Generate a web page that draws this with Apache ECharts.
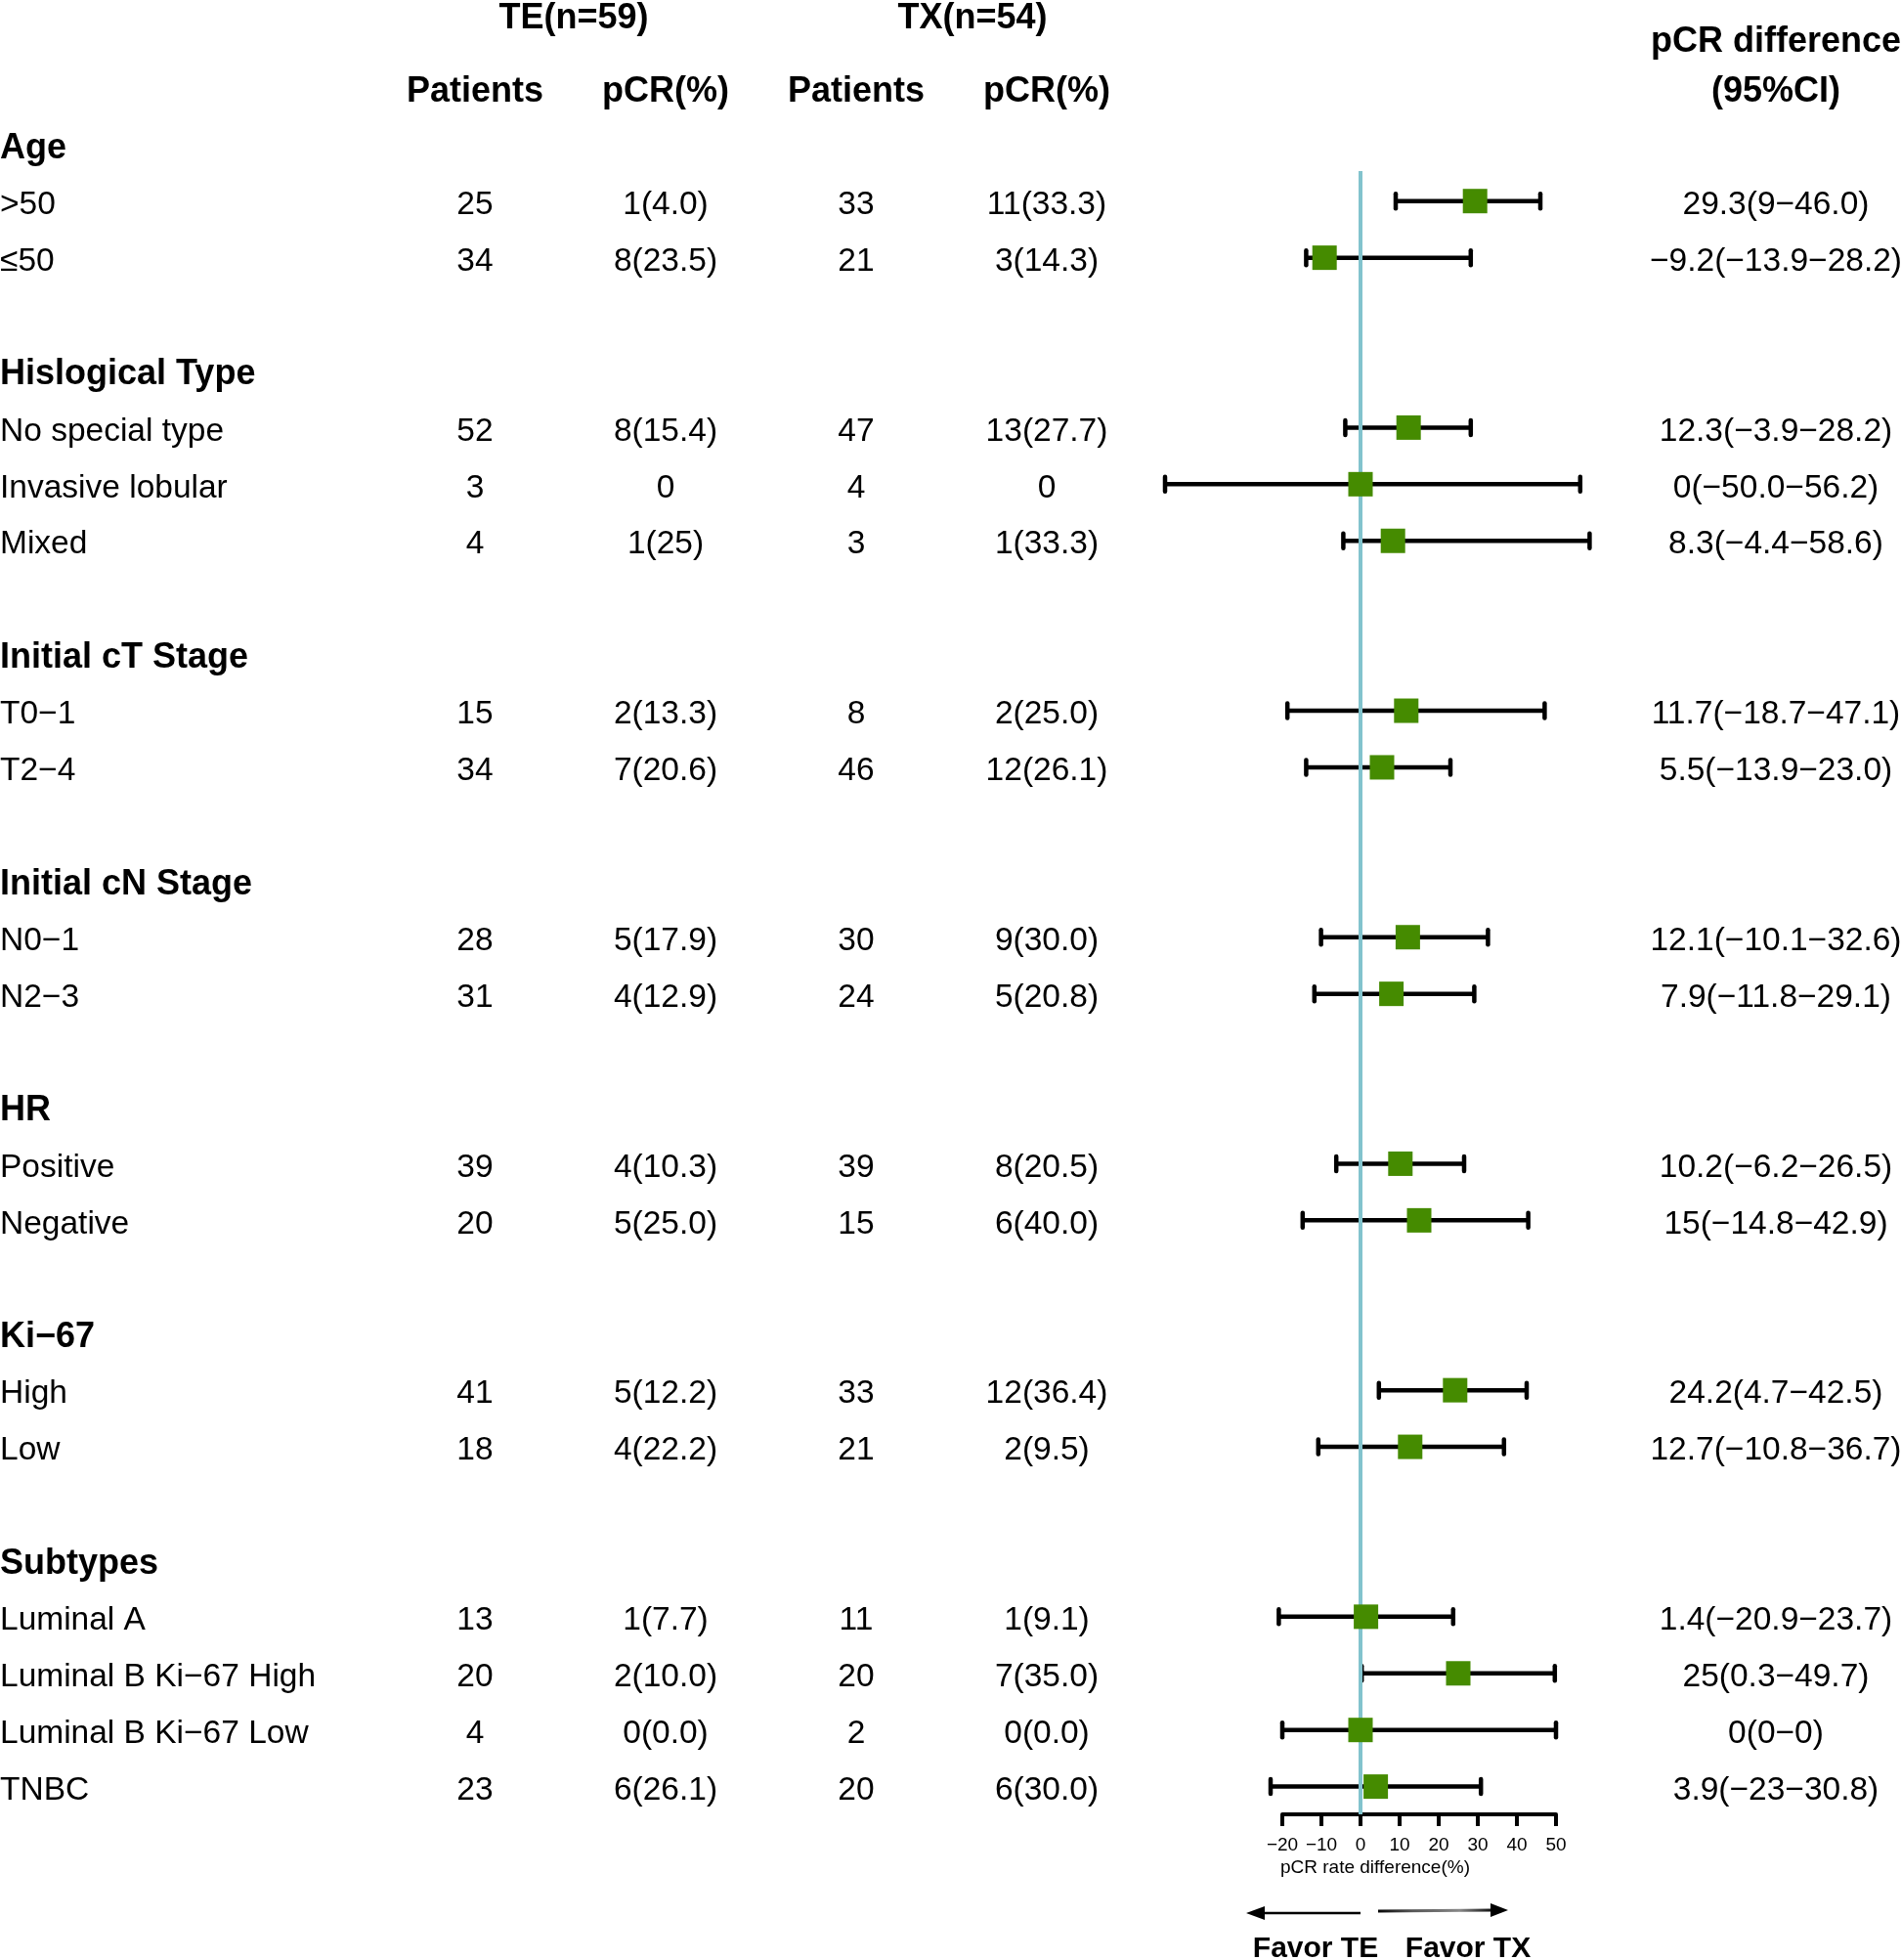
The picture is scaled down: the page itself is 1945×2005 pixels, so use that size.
<!DOCTYPE html>
<html>
<head>
<meta charset="utf-8">
<script src="https://cdn.jsdelivr.net/npm/echarts@6/dist/echarts.min.js"></script>
<style>
html,body{margin:0;padding:0;background:#fff;}
#chart{width:1945px;height:2005px;}
</style>
</head>
<body>
<div id="chart"></div>
<script>
// ---------- DATA ----------
const groups = ["Age", "Hislogical Type", "Initial cT Stage", "Initial cN Stage", "HR", "Ki\u221267", "Subtypes"];
const categories = [">50", "\u226450", "No special type", "Invasive lobular", "Mixed", "T0\u22121", "T2\u22124",
  "N0\u22121", "N2\u22123", "Positive", "Negative", "High", "Low", "Luminal A",
  "Luminal B Ki\u221267 High", "Luminal B Ki\u221267 Low", "TNBC"];
const categoryGroup = [0, 0, 1, 1, 1, 2, 2, 3, 3, 4, 4, 5, 5, 6, 6, 6, 6];
const tePatients = [25, 34, 52, 3, 4, 15, 34, 28, 31, 39, 20, 41, 18, 13, 20, 4, 23];
const tePCR = ["1(4.0)", "8(23.5)", "8(15.4)", "0", "1(25)", "2(13.3)", "7(20.6)", "5(17.9)", "4(12.9)",
  "4(10.3)", "5(25.0)", "5(12.2)", "4(22.2)", "1(7.7)", "2(10.0)", "0(0.0)", "6(26.1)"];
const txPatients = [33, 21, 47, 4, 3, 8, 46, 30, 24, 39, 15, 33, 21, 11, 20, 2, 20];
const txPCR = ["11(33.3)", "3(14.3)", "13(27.7)", "0", "1(33.3)", "2(25.0)", "12(26.1)", "9(30.0)", "5(20.8)",
  "8(20.5)", "6(40.0)", "12(36.4)", "2(9.5)", "1(9.1)", "7(35.0)", "0(0.0)", "6(30.0)"];
const diffLabel = ["29.3(9\u221246.0)", "\u22129.2(\u221213.9\u221228.2)", "12.3(\u22123.9\u221228.2)",
  "0(\u221250.0\u221256.2)", "8.3(\u22124.4\u221258.6)", "11.7(\u221218.7\u221247.1)", "5.5(\u221213.9\u221223.0)",
  "12.1(\u221210.1\u221232.6)", "7.9(\u221211.8\u221229.1)", "10.2(\u22126.2\u221226.5)", "15(\u221214.8\u221242.9)",
  "24.2(4.7\u221242.5)", "12.7(\u221210.8\u221236.7)", "1.4(\u221220.9\u221223.7)", "25(0.3\u221249.7)",
  "0(0\u22120)", "3.9(\u221223\u221230.8)"];
const diffEst = [29.3, -9.2, 12.3, 0, 8.3, 11.7, 5.5, 12.1, 7.9, 10.2, 15, 24.2, 12.7, 1.4, 25, 0, 3.9];
const ciLow = [9, -13.9, -3.9, -50, -4.4, -18.7, -13.9, -10.1, -11.8, -6.2, -14.8, 4.7, -10.8, -20.9, 0.3, -20, -23];
const ciHigh = [46, 28.2, 28.2, 56.2, 58.6, 47.1, 23.0, 32.6, 29.1, 26.5, 42.9, 42.5, 36.7, 23.7, 49.7, 50, 30.8];
const xTicks = [-20, -10, 0, 10, 20, 30, 40, 50];
const headerTop = ["TE(n=59)", "TX(n=54)"];
const headerCols = ["Patients", "pCR(%)", "Patients", "pCR(%)"];
const headerDiff = ["pCR difference", "(95%CI)"];
const axisTitle = "pCR rate difference(%)";
const favorLabels = ["Favor TE", "Favor TX"];

// ---------- LAYOUT ----------
const FONT = "'Liberation Sans', Arial, Helvetica, sans-serif";
const Y_MIN = 0.47, Y_MAX = 29.49;
const GRID_TOP = 175, GRID_H = 1681;
const TEXT_DY = 4;
const COL_X = {label: 0, teP: 486, teR: 681, txP: 876, txR: 1071, diff: 1817};

// row index for each category / group
const catRow = [], grpRow = [];
let r = 0;
groups.forEach((g, gi) => {
  grpRow.push(r); r++;
  categories.forEach((c, ci) => { if (categoryGroup[ci] === gi) { catRow[ci] = r; r++; } });
  r++;
});

// table cells
const cells = [];
groups.forEach((g, gi) => cells.push({x: COL_X.label, row: grpRow[gi], text: g, bold: true, align: 'left'}));
categories.forEach((c, i) => {
  const row = catRow[i];
  cells.push({x: COL_X.label, row, text: c, align: 'left'});
  cells.push({x: COL_X.teP, row, text: String(tePatients[i]), align: 'center'});
  cells.push({x: COL_X.teR, row, text: tePCR[i], align: 'center'});
  cells.push({x: COL_X.txP, row, text: String(txPatients[i]), align: 'center'});
  cells.push({x: COL_X.txR, row, text: txPCR[i], align: 'center'});
  cells.push({x: COL_X.diff, row, text: diffLabel[i], align: 'center'});
});
cells.push({x: 587, row: -2.29, text: headerTop[0], bold: true, align: 'center'});
cells.push({x: 995, row: -2.29, text: headerTop[1], bold: true, align: 'center'});
[COL_X.teP, COL_X.teR, COL_X.txP, COL_X.txR].forEach((x, i) =>
  cells.push({x, row: -1, text: headerCols[i], bold: true, align: 'center'}));
cells.push({x: COL_X.diff, row: -1.87, text: headerDiff[0], bold: true, align: 'center'});
cells.push({x: COL_X.diff, row: -1, text: headerDiff[1], bold: true, align: 'center'});

const forestData = categories.map((c, i) => [diffEst[i], catRow[i], ciLow[i], ciHigh[i]]);
const squareData = categories.map((c, i) => [diffEst[i], catRow[i]]);

const chart = echarts.init(document.getElementById('chart'), null, {renderer: 'canvas'});
const minus = v => (v < 0 ? '\u2212' + Math.abs(v) : String(v));

chart.setOption({
  animation: false,
  backgroundColor: '#ffffff',
  grid: [
    {left: 1312, width: 280, top: GRID_TOP, height: GRID_H},
    {left: 0, width: 1945, top: GRID_TOP, height: GRID_H}
  ],
  xAxis: [
    {
      gridIndex: 0, type: 'value', min: xTicks[0], max: xTicks[xTicks.length - 1], interval: 10,
      position: 'bottom',
      axisLine: {show: true, lineStyle: {color: '#000', width: 4}},
      axisTick: {show: true, length: 12, lineStyle: {color: '#000', width: 4}},
      axisLabel: {show: true, color: '#000', fontSize: 19, fontFamily: FONT, margin: 22, formatter: minus},
      splitLine: {show: false}
    },
    {gridIndex: 1, type: 'value', min: 0, max: 1945, show: false}
  ],
  yAxis: [
    {gridIndex: 0, type: 'value', min: Y_MIN, max: Y_MAX, inverse: true, show: false},
    {gridIndex: 1, type: 'value', min: Y_MIN, max: Y_MAX, inverse: true, show: false}
  ],
  series: [
    {
      type: 'custom', name: 'ci', xAxisIndex: 0, yAxisIndex: 0, clip: false, z: 2,
      data: forestData,
      encode: {x: [0, 2, 3], y: 1},
      renderItem: (params, api) => {
        const row = api.value(1);
        const lo = api.coord([api.value(2), row]);
        const hi = api.coord([api.value(3), row]);
        const capH = 7.5;
        const st = {stroke: '#000', lineWidth: 4.5, lineCap: 'butt'};
        const cap = {stroke: '#000', lineWidth: 4.5, lineCap: 'round'};
        return {
          type: 'group',
          children: [
            {type: 'line', shape: {x1: lo[0], y1: lo[1], x2: hi[0], y2: hi[1]}, style: st},
            {type: 'line', shape: {x1: lo[0], y1: lo[1] - capH, x2: lo[0], y2: lo[1] + capH}, style: cap},
            {type: 'line', shape: {x1: hi[0], y1: hi[1] - capH, x2: hi[0], y2: hi[1] + capH}, style: cap}
          ]
        };
      }
    },
    {
      type: 'line', name: 'zero', xAxisIndex: 0, yAxisIndex: 0, z: 3, silent: true,
      showSymbol: false, symbol: 'none',
      data: [[0, Y_MIN], [0, Y_MAX]],
      lineStyle: {color: '#82C3CD', width: 4}
    },
    {
      type: 'scatter', name: 'est', xAxisIndex: 0, yAxisIndex: 0, z: 4, clip: false,
      symbol: 'rect', symbolSize: 25,
      itemStyle: {color: '#458B00', opacity: 1},
      data: squareData
    },
    {
      type: 'custom', name: 'table', xAxisIndex: 1, yAxisIndex: 1, clip: false, z: 5,
      data: cells.map(c => [c.x, c.row]),
      renderItem: (params, api) => {
        const c = cells[params.dataIndex];
        const p = api.coord([api.value(0), api.value(1)]);
        return {
          type: 'text', x: p[0], y: p[1] + TEXT_DY,
          style: {
            text: c.text, fill: '#000', fontFamily: FONT,
            fontSize: c.bold ? 36 : 33.5, fontWeight: c.bold ? 'bold' : 'normal',
            align: c.align, verticalAlign: 'middle'
          }
        };
      }
    }
  ],
  graphic: [
    {type: 'text', left: 1310, top: 1901,
      style: {text: axisTitle, fill: '#000', fontSize: 19, fontFamily: FONT}},
    {type: 'line', shape: {x1: 1290, y1: 1957, x2: 1392, y2: 1957}, style: {stroke: '#000', lineWidth: 2.5}},
    {type: 'polygon', shape: {points: [[1275, 1957], [1294, 1950], [1294, 1964]]}, style: {fill: '#000'}},
    {type: 'line', shape: {x1: 1410, y1: 1955, x2: 1528, y2: 1954},
      style: {lineWidth: 3, stroke: new echarts.graphic.LinearGradient(0, 0, 1, 0, [
        {offset: 0, color: '#000'}, {offset: 0.3, color: '#555'}, {offset: 0.7, color: '#888'}, {offset: 1, color: '#000'}])}},
    {type: 'polygon', shape: {points: [[1543, 1954], [1525, 1947], [1525, 1961]]}, style: {fill: '#000'}},
    {type: 'text', x: 1346, y: 1994,
      style: {text: favorLabels[0], fill: '#000', fontSize: 30, fontWeight: 'bold', fontFamily: FONT, align: 'center', verticalAlign: 'middle'}},
    {type: 'text', x: 1502, y: 1994,
      style: {text: favorLabels[1], fill: '#000', fontSize: 30, fontWeight: 'bold', fontFamily: FONT, align: 'center', verticalAlign: 'middle'}}
  ]
});
</script>
</body>
</html>
